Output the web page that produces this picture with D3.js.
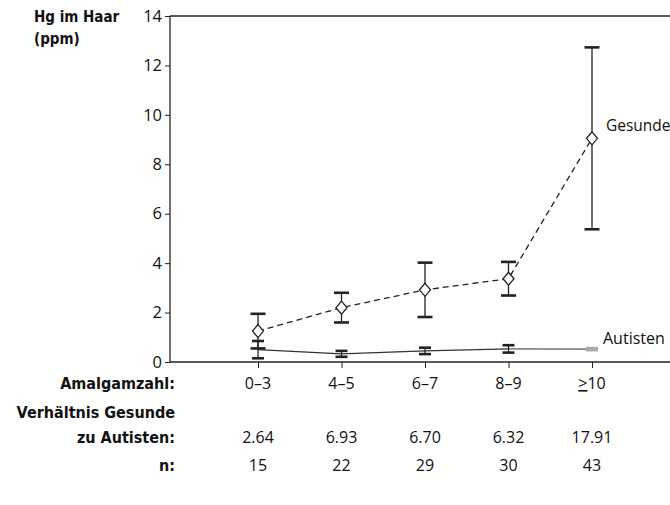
<!DOCTYPE html>
<html>
<head>
<meta charset="utf-8">
<script src="https://cdn.jsdelivr.net/npm/d3@7"></script>
<style>
  body { margin: 0; background: #fff; }
  svg text { font-family: "Liberation Sans Narrow", "DejaVu Sans Condensed", "Noto Sans", sans-serif; fill: #111; }
  .bold { font-weight: bold; }
  .num { font-family: "Open Sans", sans-serif; font-size: 16px; }
</style>
</head>
<body>
<svg id="chart" width="670" height="505"></svg>
<script>
// categories (Amalgamzahl)
var categories = ["0\u20133", "4\u20135", "6\u20137", "8\u20139", "10"];
// Hg in hair, healthy children (mean and error)
var gesundeMean = [1.25, 2.2, 2.92, 3.37, 9.05];
var gesundeErr  = [0.7, 0.6, 1.1, 0.68, 3.68];
// Hg in hair, autistic children
var autistenMean = [0.5, 0.33, 0.45, 0.53, 0.52];
var autistenErr  = [0.35, 0.12, 0.13, 0.15, 0.04];
// table rows under the chart
var ratio = ["2.64", "6.93", "6.70", "6.32", "17.91"];
var nValues = ["15", "22", "29", "30", "43"];
var yTicks = [0, 2, 4, 6, 8, 10, 12, 14];

var svg = d3.select("#chart");
var mLeft = 170, mRight = 670, mTop = 16, mBottom = 362;

var x = d3.scalePoint().domain(categories).range([258, 592]);
var y = d3.scaleLinear().domain([0, 14]).range([mBottom, mTop]);

//frame line on top
svg.append("line").attr("x1", mLeft).attr("x2", mRight).attr("y1", mTop).attr("y2", mTop)
  .attr("stroke", "#222").attr("stroke-width", 1.3);

var yAxis = svg.append("g").attr("transform", "translate(" + mLeft + ",0)")
  .call(d3.axisLeft(y).tickValues(yTicks).tickSize(5).tickPadding(3));
yAxis.select(".domain").attr("stroke", "#222").attr("stroke-width", 1.3).attr("d", "M0," + mTop + "V" + mBottom);
yAxis.selectAll(".tick line").attr("stroke", "#222");
yAxis.selectAll(".tick text").attr("class", "num").attr("fill", "#111").style("font-size", "16.5px");

var xAxis = svg.append("g").attr("transform", "translate(0," + mBottom + ")")
  .call(d3.axisBottom(x).tickSize(6).tickFormat(""));
xAxis.select(".domain").attr("stroke", "#222").attr("stroke-width", 1.3).attr("d", "M" + mLeft + ",0H" + mRight);
xAxis.selectAll(".tick line").attr("stroke", "#222");

svg.append("text").attr("class", "bold").attr("x", 34).attr("y", 22)
  .style("font-size", "15px").text("Hg im Haar");
svg.append("text").attr("class", "bold").attr("x", 34).attr("y", 44)
  .style("font-size", "15px").text("(ppm)");

//error bars
function errorBars(mean, err, color, capW, altIdx, altColor) {
  mean.forEach(function(m, i) {
    var c = (i === altIdx) ? altColor : color;
    var cx = x(categories[i]);
    var g = svg.append("g");
    g.append("line").attr("x1", cx).attr("x2", cx).attr("y1", y(m + err[i])).attr("y2", y(m - err[i]))
      .attr("stroke", c).attr("stroke-width", 1.3);
    [m + err[i], m - err[i]].forEach(function(v) {
      g.append("line").attr("x1", cx - capW / 2).attr("x2", cx + capW / 2).attr("y1", y(v)).attr("y2", y(v))
        .attr("stroke", c).attr("stroke-width", 2.6);
    });
  });
}

var line = d3.line().x(function(d, i) { return x(categories[i]); }).y(function(d) { return y(d); });

// Autisten line
svg.append("path").datum(autistenMean.slice(0, 4)).attr("d", line)
  .attr("fill", "none").attr("stroke", "#333").attr("stroke-width", 1.4);
svg.append("path")
  .attr("d", "M" + x(categories[3]) + "," + y(autistenMean[3]) + "L" + x(categories[4]) + "," + y(autistenMean[4]))
  .attr("fill", "none").attr("stroke", "#888").attr("stroke-width", 1.6);
errorBars(autistenMean, autistenErr, "#222", 12, 4, "#aaa");

// Gesunde line
svg.append("path").datum(gesundeMean).attr("d", line)
  .attr("fill", "none").attr("stroke", "#222").attr("stroke-width", 1.3).attr("stroke-dasharray", "6,4");
errorBars(gesundeMean, gesundeErr, "#222", 15);

svg.selectAll(".diamond").data(gesundeMean).enter().append("path")
  .attr("class", "diamond")
  .attr("transform", function(d, i) { return "translate(" + x(categories[i]) + "," + y(d) + ")"; })
  .attr("d", "M0,-6.5L5.5,0L0,6.5L-5.5,0Z")
  .attr("fill", "#fff").attr("stroke", "#222").attr("stroke-width", 1.3);

svg.append("text").attr("class", "num").attr("x", 606).attr("y", y(gesundeMean[4]) - 7)
  .style("font-size", "15.5px").text("Gesunde");
svg.append("text").attr("class", "num").attr("x", 603).attr("y", y(autistenMean[4]) - 5).text("Autisten");

//table under the axis
var rowLabelX = 175;
var rowLabels = [["Amalgamzahl:", 389], ["Verhältnis Gesunde", 418], ["zu Autisten:", 443], ["n:", 471]];
rowLabels.forEach(function(r) {
  svg.append("text").attr("class", "bold").attr("x", rowLabelX).attr("y", r[1])
    .attr("text-anchor", "end").style("font-size", "16px").text(r[0]);
});

categories.forEach(function(c, i) {
  var t = svg.append("text").attr("class", "num").attr("x", x(c)).attr("y", 389).attr("text-anchor", "middle");
  if (i === 4) {
    t.append("tspan").style("text-decoration", "underline").text(">");
    t.append("tspan").text(c);
  } else {
    t.text(c);
  }
  svg.append("text").attr("class", "num").attr("x", x(c)).attr("y", 443).attr("text-anchor", "middle").text(ratio[i]);
  svg.append("text").attr("class", "num").attr("x", x(c)).attr("y", 471).attr("text-anchor", "middle").text(nValues[i]);
});
</script>
</body>
</html>
